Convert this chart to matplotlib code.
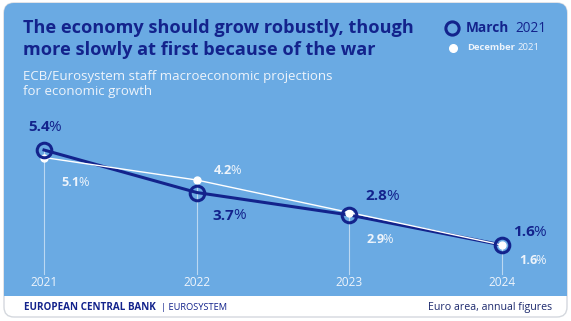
#!/usr/bin/env python3
"""Euro area growth projections: March vs December staff projections."""

import matplotlib

matplotlib.use("Agg")
import matplotlib.pyplot as plt
from matplotlib.patches import FancyBboxPatch, Rectangle

years = [2021, 2022, 2023, 2024]
march = [5.4, 3.7, 2.8, 1.6]
december = [5.1, 4.2, 2.9, 1.6]

title = "The economy should grow robustly, though\nmore slowly at first because of the war"
subtitle = "ECB/Eurosystem staff macroeconomic projections\nfor economic growth"
footer_left_bold = "EUROPEAN CENTRAL BANK"
footer_left_rest = "| EUROSYSTEM"
footer_right = "Euro area, annual figures"

BLUE = "#6aaae3"
NAVY = "#13238c"
PALE = "#eef4fb"

W, H = 571, 321
plt.rcParams["font.family"] = ["Open Sans", "DejaVu Sans"]

fig = plt.figure(figsize=(W / 100, H / 100), dpi=100)
fig.patch.set_facecolor("white")

# pixel-space canvas for the card, titles and footer
bg = fig.add_axes([0, 0, 1, 1])
bg.set_xlim(0, W)
bg.set_ylim(H, 0)
bg.axis("off")

card = FancyBboxPatch((4, 3), W - 8, H - 7, boxstyle="round,pad=0,rounding_size=10",
                      facecolor="white", edgecolor="#d4d8de", linewidth=1.0)
bg.add_patch(card)
blue = FancyBboxPatch((4, 3), W - 8, 292, boxstyle="round,pad=0,rounding_size=10",
                      facecolor=BLUE, edgecolor="none")
bg.add_patch(blue)
bg.add_patch(Rectangle((4, 280), W - 8, 16, facecolor=BLUE, edgecolor="none"))

bg.text(23, 39, title, color=NAVY, fontsize=13.1, fontweight="bold",
        va="center", ha="left", linespacing=1.3)
bg.text(23, 84, subtitle, color=PALE, fontsize=9.5, va="center", ha="left",
        linespacing=1.15)

# legend
bg.plot([452], [28], marker="o", ms=9.5, mfc="none", mec=NAVY, mew=2.2)
bg.text(466, 28.5, "March", color=NAVY, fontsize=9.8, fontweight="bold", va="center")
bg.text(515, 28.5, "2021", color=NAVY, fontsize=9.8, va="center", ha="left")
bg.plot([453], [48], marker="o", ms=5.5, mfc="white", mec="white")
bg.text(467, 48, "December", color=PALE, fontsize=6.8, fontweight="bold", va="center")
bg.text(517, 48, "2021", color=PALE, fontsize=6.8, va="center", ha="left")

bg.text(24, 307.5, footer_left_bold, color=NAVY, fontsize=7.1, fontweight="bold",
        va="center", ha="left")
bg.text(161, 307.5, footer_left_rest, color=NAVY, fontsize=6.7, va="center", ha="left")
bg.text(552, 307.5, footer_right, color="#1d2a6e", fontsize=7.7, va="center", ha="right")

# data axes: 2021..2024 spans x 44..502 px, value 0 sits at y 285 px, 25 px per point
x0, x1 = 44, 502
ybot, ytop = 285, 150
ax = fig.add_axes([x0 / W, (H - ybot) / H, (x1 - x0) / W, (ybot - ytop) / H])
ax.set_xlim(years[0], years[-1])
ax.set_ylim(0, 5.4)
ax.patch.set_alpha(0)
ax.axis("off")

for yr, m, d in zip(years, march, december):
    top = max(m, d)
    ax.plot([yr, yr], [top, 0.45], color="white", alpha=0.55, lw=0.8, zorder=1, clip_on=False)
    ax.text(yr, 0.1, str(yr), color=PALE, fontsize=8.6, ha="center", va="center", clip_on=False)

ax.plot(years, march, color=NAVY, lw=2.2, zorder=2, clip_on=False)
ax.plot(years, december, color="white", lw=1.0, zorder=3, clip_on=False)
ax.plot(years, december, "o", ms=5, color="white", mec="white", zorder=4, clip_on=False)
ax.plot(years, march, "o", ms=10.5, mfc="none", mec=NAVY, mew=2.2, zorder=5, clip_on=False)

# value labels: number bold, percent sign regular, split at the offset point
march_offsets = [(6, 23), (38, -23), (38, 19), (33, 13)]
december_offsets = [(36, -25), (35, 10), (35, -27), (35, -15)]


def label(x, v, off, color, size):
    kw = dict(xy=(x, v), textcoords="offset pixels", color=color,
              fontsize=size, va="center", annotation_clip=False, zorder=6)
    ax.annotate(f"{v:.1f}", xytext=off, ha="right", fontweight="bold", **kw)
    ax.annotate("%", xytext=(off[0] - 1.5, off[1]), ha="left", **kw)


for yr, v, off in zip(years, march, march_offsets):
    label(yr, v, off, NAVY, 11)
for yr, v, off in zip(years, december, december_offsets):
    label(yr, v, off, PALE, 9.2)

fig.savefig("out.png", dpi=100)
